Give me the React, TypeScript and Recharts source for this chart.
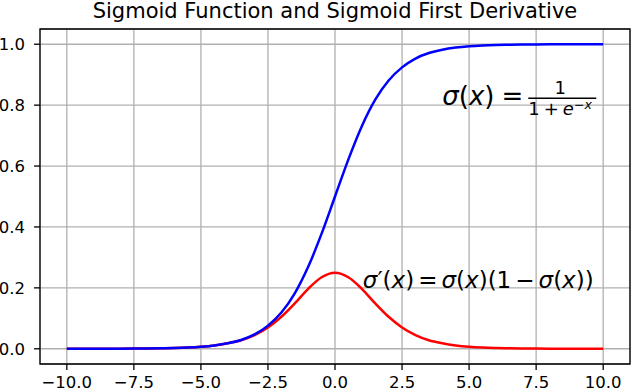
import React from 'react';
import {
  LineChart,
  Line,
  XAxis,
  YAxis,
  CartesianGrid,
  ReferenceArea,
  ReferenceDot,
} from 'recharts';

// x positions (step 0.5)
const xValues = [
  -10, -9.5, -9, -8.5, -8, -7.5, -7, -6.5, -6, -5.5, -5, -4.5, -4, -3.5, -3, -2.5, -2, -1.5, -1, -0.5,
  0, 0.5, 1, 1.5, 2, 2.5, 3, 3.5, 4, 4.5, 5, 5.5, 6, 6.5, 7, 7.5, 8, 8.5, 9, 9.5, 10,
];

// blue curve: sigma(x)
const sigmoidValues = [
  0.00005, 0.00007, 0.00012, 0.0002, 0.00034, 0.00055, 0.0009, 0.0015, 0.0025, 0.0041,
  0.0067, 0.011, 0.018, 0.029, 0.047, 0.076, 0.119, 0.182, 0.269, 0.378,
  0.5, 0.622, 0.731, 0.818, 0.881, 0.924, 0.953, 0.971, 0.982, 0.989,
  0.9933, 0.9959, 0.9975, 0.9985, 0.9991, 0.99945, 0.99966, 0.9998, 0.99988, 0.99993, 0.99995,
];

// red curve: sigma'(x)
const derivativeValues = [
  0.00005, 0.00007, 0.00012, 0.0002, 0.00034, 0.00055, 0.0009, 0.0015, 0.0025, 0.004,
  0.0066, 0.011, 0.018, 0.028, 0.045, 0.07, 0.105, 0.149, 0.197, 0.235,
  0.25, 0.235, 0.197, 0.149, 0.105, 0.07, 0.045, 0.028, 0.018, 0.011,
  0.0066, 0.004, 0.0025, 0.0015, 0.0009, 0.00055, 0.00034, 0.0002, 0.00012, 0.00007, 0.00005,
];

const xTicks = [-10, -7.5, -5, -2.5, 0, 2.5, 5, 7.5, 10];
const yTicks = [0, 0.2, 0.4, 0.6, 0.8, 1.0];

const data = xValues.map((x, i) => ({
  x,
  sigmoid: sigmoidValues[i],
  derivative: derivativeValues[i],
}));

const FONT = 'DejaVu Sans';
const fmt = (v: number) => v.toFixed(1).replace('-', '\u2212');

const SigmoidFormula = ({ cx, cy }: { cx: number; cy: number }) => (
  <g fontFamily={FONT} fill="#000">
    <text x={cx} y={cy} fontSize={26}>
      <tspan fontStyle="italic">σ</tspan>
      <tspan>(</tspan>
      <tspan fontStyle="italic">x</tspan>
      <tspan>)</tspan>
      <tspan dx={7}>=</tspan>
    </text>
    <line x1={cx + 86} x2={cx + 154} y1={cy - 7} y2={cy - 7} stroke="#000" strokeWidth={1.5} />
    <text x={cx + 118} y={cy - 11} fontSize={18} textAnchor="middle">1</text>
    <text x={cx + 86} y={cy + 10} fontSize={18}>
      <tspan>1</tspan>
      <tspan dx={4}>+</tspan>
      <tspan dx={4} fontStyle="italic">e</tspan>
      <tspan fontSize={12.5} dy={-6}>−</tspan>
      <tspan fontSize={12.5} fontStyle="italic">x</tspan>
    </text>
  </g>
);

const DerivativeFormula = ({ cx, cy }: { cx: number; cy: number }) => (
  <text x={cx + 1} y={cy} fontSize={23} fontFamily={FONT} fill="#000">
    <tspan fontStyle="italic">σ</tspan>
    <tspan>′(</tspan>
    <tspan fontStyle="italic">x</tspan>
    <tspan>)</tspan>
    <tspan dx={4}>=</tspan>
    <tspan dx={4} fontStyle="italic">σ</tspan>
    <tspan>(</tspan>
    <tspan fontStyle="italic">x</tspan>
    <tspan>)(1</tspan>
    <tspan dx={4}>−</tspan>
    <tspan dx={4} fontStyle="italic">σ</tspan>
    <tspan>(</tspan>
    <tspan fontStyle="italic">x</tspan>
    <tspan>))</tspan>
  </text>
);

export default function App() {
  return (
    <div style={{ position: 'absolute', left: 0, top: 0, width: 632, height: 390, background: '#fff' }}>
      <div
        style={{
          position: 'absolute',
          left: 40,
          width: 590,
          top: 0,
          textAlign: 'center',
          fontFamily: FONT,
          fontSize: 21,
          lineHeight: '22px',
          color: '#000',
        }}
      >
        Sigmoid Function and Sigmoid First Derivative
      </div>
      <LineChart
        width={632}
        height={390}
        data={data}
        margin={{ top: 29, right: 2, bottom: 0, left: 0 }}
      >
        <CartesianGrid stroke="#b0b0b0" strokeWidth={1.3} />
        <XAxis
          dataKey="x"
          type="number"
          domain={[-11, 11]}
          ticks={xTicks}
          tickFormatter={fmt}
          height={26}
          tickSize={6}
          tickMargin={6}
          axisLine={false}
          tickLine={{ stroke: '#000', strokeWidth: 1.3 }}
          tick={{ fontSize: 16.5, fill: '#000', fontFamily: FONT }}
          allowDataOverflow
        />
        <YAxis
          type="number"
          domain={[-0.05, 1.05]}
          ticks={yTicks}
          tickFormatter={fmt}
          width={40}
          tickSize={6}
          tickMargin={9}
          axisLine={false}
          tickLine={{ stroke: '#000', strokeWidth: 1.3 }}
          tick={{ fontSize: 16.5, fill: '#000', fontFamily: FONT }}
          allowDataOverflow
        />
        <Line
          type="monotone"
          dataKey="derivative"
          stroke="#ff0000"
          strokeWidth={2.5}
          dot={false}
          isAnimationActive={false}
        />
        <Line
          type="monotone"
          dataKey="sigmoid"
          stroke="#0000ff"
          strokeWidth={2.5}
          dot={false}
          isAnimationActive={false}
        />
        <ReferenceArea
          x1={-11}
          x2={11}
          y1={-0.05}
          y2={1.05}
          fill="none"
          fillOpacity={0}
          stroke="#000"
          strokeWidth={1.3}
          ifOverflow="visible"
        />
        <ReferenceDot
          x={4}
          y={0.8}
          r={0}
          ifOverflow="visible"
          shape={(p: any) => <SigmoidFormula cx={p.cx} cy={p.cy} />}
        />
        <ReferenceDot
          x={1}
          y={0.2}
          r={0}
          ifOverflow="visible"
          shape={(p: any) => <DerivativeFormula cx={p.cx} cy={p.cy} />}
        />
      </LineChart>
    </div>
  );
}
